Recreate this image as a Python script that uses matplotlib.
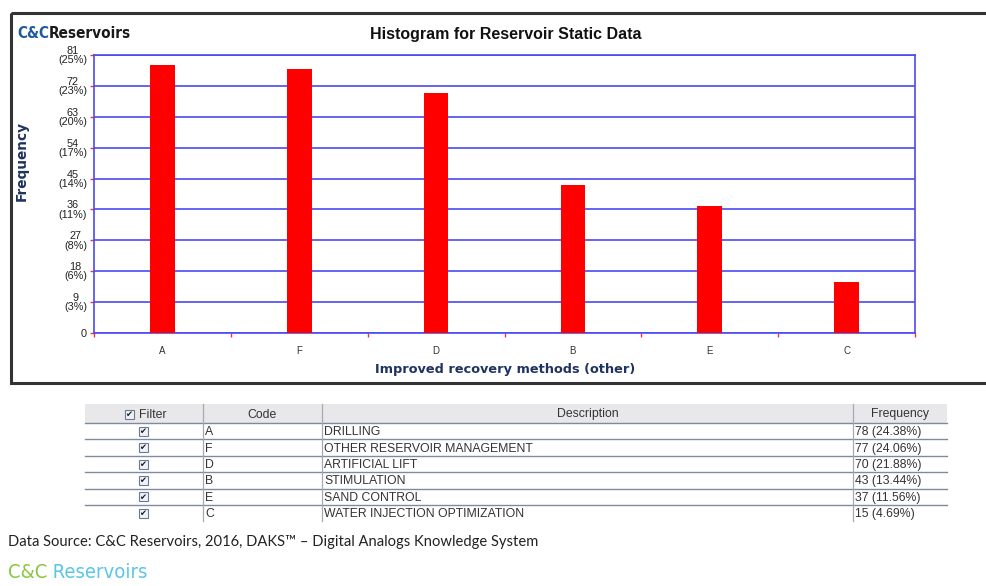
import matplotlib
matplotlib.use("Agg")
import matplotlib.pyplot as plt
from matplotlib.patches import Rectangle
import numpy as np

# ---------------- data ----------------
codes = ["A", "F", "D", "B", "E", "C"]
descriptions = ["DRILLING", "OTHER RESERVOIR MANAGEMENT", "ARTIFICIAL LIFT",
                "STIMULATION", "SAND CONTROL", "WATER INJECTION OPTIMIZATION"]
frequencies = [78, 77, 70, 43, 37, 15]
freq_labels = ["78 (24.38%)", "77 (24.06%)", "70 (21.88%)", "43 (13.44%)",
               "37 (11.56%)", "15 (4.69%)"]
y_ticks = [0, 9, 18, 27, 36, 45, 54, 63, 72, 81]
y_tick_labels = ["0", "9\n(3%)", "18\n(6%)", "27\n(8%)", "36\n(11%)", "45\n(14%)",
                 "54\n(17%)", "63\n(20%)", "72\n(23%)", "81\n(25%)"]

W, H = 986, 586
fig = plt.figure(figsize=(W / 100, H / 100), dpi=100)
fig.patch.set_facecolor("white")

ARIAL = ["Liberation Sans", "DejaVu Sans"]
NARROW = ["DejaVu Sans", "Liberation Sans"]
BLUE = "#4a4af0"
NAVY = "#1f3360"

# ---------------- chart ----------------
L, R, T, B = 94, 915, 55, 333
ax = fig.add_axes([L / W, 1 - B / H, (R - L) / W, (B - T) / H])
x = np.arange(len(codes))
ax.bar(x, frequencies, width=0.18, color="#ff0000", zorder=3)
ax.set_xlim(-0.5, len(codes) - 0.5)
ax.set_ylim(0, 81)
ax.set_yticks(y_ticks)
ax.set_yticklabels(y_tick_labels, fontsize=7.8, family=ARIAL, color="#222222",
                   multialignment="center", linespacing=0.9)
ax.set_xticks(x)
ax.set_xticklabels(codes, fontsize=7, family=ARIAL, color="#333333")
ax.set_xticks(np.arange(-0.5, len(codes) + 0.5, 1), minor=True)
ax.tick_params(axis="x", which="major", length=0, pad=9)
ax.tick_params(axis="x", which="minor", length=3, color="#ff3030", width=1, direction="out")
ax.tick_params(axis="y", length=3, color="#ff3030", width=1, pad=2)
ax.grid(axis="y", color=BLUE, linewidth=1.2, zorder=1)
for s in ax.spines.values():
    s.set_color(BLUE)
    s.set_linewidth(1.2)

# ---------------- overlay (pixel coordinates) ----------------
ov = fig.add_axes([0, 0, 1, 1], zorder=-1)
ov.set_xlim(0, W)
ov.set_ylim(H, 0)
ov.axis("off")

ov2 = fig.add_axes([0, 0, 1, 1], zorder=5)
ov2.set_xlim(0, W)
ov2.set_ylim(H, 0)
ov2.axis("off")
ov2.patch.set_alpha(0)

# outer chart frame
ov.add_patch(Rectangle((11, 13), 990, 370, fill=False, edgecolor="#333333", linewidth=2.2))

# title and axis labels
ov2.text(506, 34, "Histogram for Reservoir Static Data", ha="center", va="center",
         fontsize=11.5, fontweight="bold", family=ARIAL, color="#111111")
ov2.text(505, 369, "Improved recovery methods (other)", ha="center", va="center",
         fontsize=9.3, fontweight="bold", family=["DejaVu Sans"], color=NAVY)
ov2.text(22, 161, "Frequency", ha="center", va="center", rotation=90,
         fontsize=9.8, fontweight="bold", family=["DejaVu Sans"], color=NAVY)

# top logo
t1 = ov2.text(17, 33, "C&C", ha="left", va="center", fontsize=11, fontweight="bold",
              fontstretch="condensed", family=NARROW, color="#1e5a9e")
ov2.annotate("Reservoirs", xy=(1, 0.5), xycoords=t1, va="center", ha="left",
             fontsize=11, fontweight="bold", fontstretch="condensed", family=NARROW,
             color="#1a1a1a")

# ---------------- table ----------------
col_x = [85, 203, 322, 853, 947]
header_top, header_bot = 404, 423
row_h = 16.4
n = len(codes)
line_col = "#7d8aa0"
ov.add_patch(Rectangle((col_x[0], header_top), col_x[-1] - col_x[0], header_bot - header_top,
                       facecolor="#e8e8ea", edgecolor="none"))
ov.plot([col_x[0], col_x[-1]], [header_bot, header_bot], color=line_col, lw=1)
for i in range(n):
    yb = header_bot + (i + 1) * row_h
    if i < n - 1:
        ov.plot([col_x[0], col_x[-1]], [yb, yb], color=line_col, lw=1)
table_bot = header_bot + n * row_h
for cx in col_x[1:-1]:
    ov.plot([cx, cx], [header_top, table_bot], color="#a4aab4", lw=0.9)

fs_tab = 8.8
def checkbox(cx, cy):
    ov.add_patch(Rectangle((cx - 4.5, cy - 4.5), 9, 9, facecolor="#eef2f8",
                           edgecolor="#6a7a94", linewidth=0.8))
    ov.text(cx, cy + 0.3, "\u2714", ha="center", va="center", fontsize=6,
            family=["DejaVu Sans"], color="#1a1a1a")

hy = (header_top + header_bot) / 2 + 1
checkbox(129, hy)
ov.text(139, hy, "Filter", ha="left", va="center", fontsize=8.8, family=ARIAL, color="#333333")
ov.text((col_x[1] + col_x[2]) / 2, hy, "Code", ha="center", va="center", fontsize=8.8,
        family=ARIAL, color="#333333")
ov.text((col_x[2] + col_x[3]) / 2, hy, "Description", ha="center", va="center", fontsize=8.8,
        family=ARIAL, color="#333333")
ov.text((col_x[3] + col_x[4]) / 2, hy, "Frequency", ha="center", va="center", fontsize=8.8,
        family=ARIAL, color="#333333")

for i in range(n):
    cy = header_bot + (i + 0.5) * row_h + 1
    checkbox(143, cy - 1)
    ov.text(col_x[1] + 2, cy, codes[i], ha="left", va="center", fontsize=fs_tab,
            family=ARIAL, color="#333333")
    ov.text(col_x[2] + 2, cy, descriptions[i], ha="left", va="center", fontsize=fs_tab,
            family=ARIAL, color="#333333")
    ov.text(col_x[3] + 2, cy, freq_labels[i], ha="left", va="center", fontsize=fs_tab,
            family=ARIAL, color="#333333")

# ---------------- footer ----------------
ov2.text(8, 542, "Data Source: C&C Reservoirs, 2016, DAKS\u2122 \u2013 Digital Analogs Knowledge System",
         ha="left", va="center", fontsize=10.6, family=["Lato", "DejaVu Sans"], color="#222222")
t2 = ov2.text(8, 573, "C&C", ha="left", va="center", fontsize=14.5, fontstretch="condensed",
              family=NARROW, color="#8cc63f")
ov2.annotate(" Reservoirs", xy=(1, 0.5), xycoords=t2, va="center", ha="left",
             fontsize=14.5, fontstretch="condensed", family=NARROW, color="#5bc5e5")

fig.savefig("out.png", dpi=100, facecolor="white")
